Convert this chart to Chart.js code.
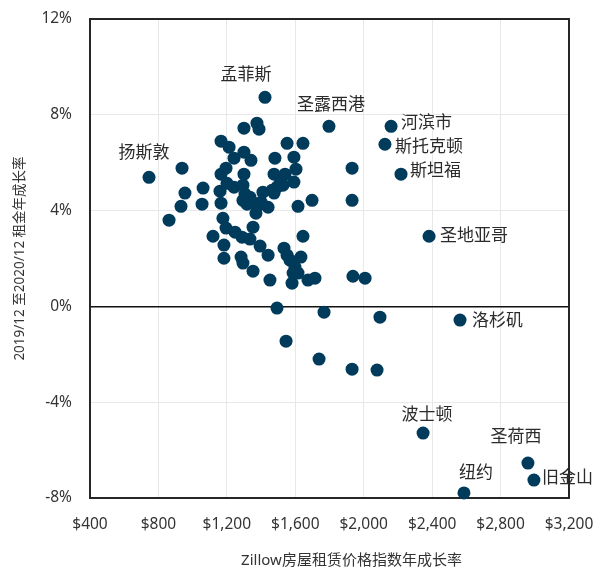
<!DOCTYPE html>
<html>
<head>
<meta charset="utf-8">
<script src="https://cdn.jsdelivr.net/npm/chart.js@4/dist/chart.umd.min.js"></script>
<style>
  body { margin: 0; background: #fff; }
  #wrap { width: 596px; height: 568px; }
</style>
</head>
<body>
<div id="wrap"><canvas id="rent-scatter"></canvas></div>
<script>
/**
 * Data
 */
// Labelled metros: rent index level ($) and 2019/12 - 2020/12 growth (%)
const cityNames = ["孟菲斯", "圣露西港", "河滨市", "斯托克顿", "斯坦福", "圣地亚哥",
  "扬斯敦", "洛杉矶", "波士顿", "圣荷西", "旧金山", "纽约"];
const cityRent = [1423, 1797, 2160, 2124, 2218, 2382, 745, 2563, 2347, 2960, 2995, 2586];
const cityGrowth = [8.73, 7.52, 7.52, 6.77, 5.52, 2.93, 5.39, -0.57, -5.29, -6.54, -7.25, -7.79];

// Unlabelled metros
const otherRent = [
  1300, 1376, 1388, 1166, 1213, 1300, 1242, 1341, 1552, 1645,
  1481, 1592, 1604, 938, 1195, 1166, 1300, 1476, 1540, 1592,
  1932, 955, 1061, 1160, 1201, 1242, 1294, 1306, 1335, 1411,
  1493, 1464, 1511, 1476, 1528, 932, 1055, 1166, 1294, 1324,
  1318, 1347, 1376, 1370, 1441, 1400, 1616, 1698, 1932, 862,
  1177, 1195, 1353, 1119, 1248, 1289, 1335, 1394, 1441, 1183,
  1183, 1283, 1294, 1353, 1452, 1534, 1645, 1552, 1569, 1598,
  1633, 1587, 1616, 1581, 1674, 1715, 1937, 2008, 1493, 1768,
  2095, 1546, 1739, 1932, 2078
];
const otherGrowth = [
  7.44, 7.65, 7.40, 6.90, 6.65, 6.44, 6.19, 6.10, 6.81, 6.81,
  6.19, 6.23, 5.73, 5.77, 5.77, 5.52, 5.52, 5.52, 5.52, 5.19,
  5.77, 4.73, 4.94, 4.81, 5.14, 4.98, 5.06, 4.69, 4.56, 4.77,
  4.98, 4.85, 5.14, 4.73, 5.06, 4.18, 4.27, 4.31, 4.43, 4.52,
  4.27, 4.35, 4.18, 3.89, 4.14, 4.35, 4.18, 4.43, 4.43, 3.60,
  3.68, 3.27, 3.31, 2.93, 3.10, 2.89, 2.81, 2.52, 2.14, 2.56,
  2.01, 2.06, 1.81, 1.47, 1.10, 2.43, 2.93, 2.14, 1.93, 1.64,
  2.06, 1.39, 1.39, 0.97, 1.10, 1.18, 1.26, 1.18, -0.07, -0.24,
  -0.45, -1.45, -2.20, -2.62, -2.66
];

// Axis ranges and tick steps
const xMin = 400, xMax = 3200, xStep = 400;
const yMin = -8, yMax = 12, yStep = 4;

const xTitle = "Zillow房屋租赁价格指数年成长率";
const yTitle = "2019/12 至2020/12 租金年成长率";

/**
 * Styling
 */
const fontFamily = "'Noto Sans', 'Noto Sans CJK SC', sans-serif";
const dotColor = "#003b5c";
const textColor = "#333333";

// pixel offset of each city label from its dot: [dx, dy, align]
const labelOffsets = {
  "孟菲斯": [-19, -22, "center"],
  "圣露西港": [2, -21, "center"],
  "河滨市": [10, -3, "left"],
  "斯托克顿": [10, 3, "left"],
  "斯坦福": [9, -3, "left"],
  "圣地亚哥": [11, 0, "left"],
  "扬斯敦": [-5, -24, "center"],
  "洛杉矶": [12, 1, "left"],
  "波士顿": [4, -18, "center"],
  "圣荷西": [-12, -26, "center"],
  "旧金山": [8, -2, "left"],
  "纽约": [12, -20, "center"],
};

const toPoints = (xs, ys) => xs.map((x, i) => ({ x: x, y: ys[i] }));

// Border around the whole plot area
const framePlugin = {
  id: "frame",
  beforeDatasetsDraw(chart) {
    const { ctx, chartArea: a } = chart;
    ctx.save();
    ctx.strokeStyle = "#262626";
    ctx.lineWidth = 2;
    ctx.strokeRect(a.left, a.top, a.right - a.left, a.bottom - a.top);
    ctx.restore();
  },
};

// City names next to their dots, plus the x-axis title (sits a bit right of centre)
const cityLabelPlugin = {
  id: "cityLabels",
  afterDatasetsDraw(chart) {
    const { ctx, scales, chartArea: a } = chart;
    ctx.save();
    ctx.font = "17px " + fontFamily;
    ctx.fillStyle = "#2b2b2b";
    ctx.textBaseline = "middle";
    cityNames.forEach((name, i) => {
      const px = scales.x.getPixelForValue(cityRent[i]);
      const py = scales.y.getPixelForValue(cityGrowth[i]);
      const [dx, dy, align] = labelOffsets[name];
      ctx.textAlign = align;
      ctx.fillText(name, px + dx, py + dy);
    });

    ctx.font = "15px " + fontFamily;
    ctx.fillStyle = textColor;
    ctx.textAlign = "center";
    ctx.fillText(xTitle, (a.left + a.right) / 2 + 22, chart.height - 7);
    ctx.restore();
  },
};

/**
 * Chart Component
 */
const ChartRent = document.getElementById("rent-scatter");

new Chart(ChartRent, {
  type: "scatter",
  data: {
    datasets: [
      {
        label: "其他",
        data: toPoints(otherRent, otherGrowth),
        pointRadius: 6.5,
        pointHoverRadius: 6.5,
        borderWidth: 0,
        backgroundColor: dotColor,
        clip: false,
      },
      {
        label: "城市",
        data: toPoints(cityRent, cityGrowth),
        pointRadius: 6.5,
        pointHoverRadius: 6.5,
        borderWidth: 0,
        backgroundColor: dotColor,
        clip: false,
      },
    ],
  },
  options: {
    responsive: true,
    maintainAspectRatio: false,
    animation: false,
    events: [],
    layout: { padding: { top: 19, right: 27, left: 0, bottom: 0 } },
    plugins: {
      legend: { display: false },
      tooltip: { enabled: false },
    },
    scales: {
      x: {
        type: "linear",
        min: xMin,
        max: xMax,
        afterFit: (scale) => {
          scale.height = 70;
          scale.paddingLeft = 0;
          scale.paddingRight = 0;
        },
        border: { display: false },
        grid: { color: "#e8e8e8", lineWidth: 1, drawTicks: false },
        ticks: {
          stepSize: xStep,
          padding: 17,
          color: textColor,
          font: { family: fontFamily, size: 15.5 },
          callback: (v) => "$" + v.toLocaleString("en-US"),
        },
      },
      y: {
        type: "linear",
        min: yMin,
        max: yMax,
        afterFit: (scale) => {
          scale.width = 90;
          scale.paddingTop = 0;
          scale.paddingBottom = 0;
        },
        border: { display: false },
        grid: {
          color: (c) => (c.tick && c.tick.value === 0 ? "#111111" : "#e8e8e8"),
          lineWidth: (c) => (c.tick && c.tick.value === 0 ? 1.5 : 1),
          drawTicks: false,
        },
        ticks: {
          stepSize: yStep,
          padding: 18,
          color: textColor,
          font: { family: fontFamily, size: 15.5 },
          callback: (v) => v + "%",
        },
        title: {
          display: true,
          text: yTitle,
          color: textColor,
          font: { family: fontFamily, size: 13.5 },
          padding: { top: 12, bottom: 0 },
        },
      },
    },
  },
  plugins: [framePlugin, cityLabelPlugin],
});
</script>
</body>
</html>
